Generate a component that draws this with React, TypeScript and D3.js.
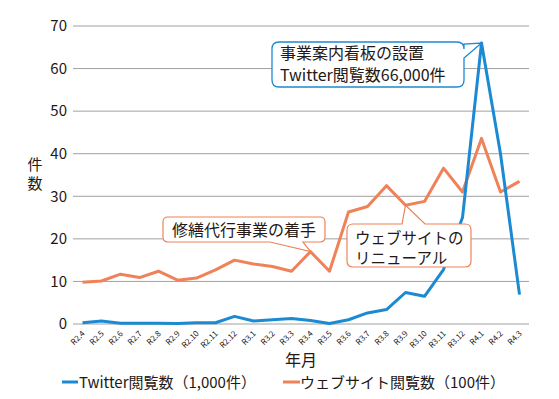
import * as d3 from 'd3'

const months = [
  'R2.4', 'R2.5', 'R2.6', 'R2.7', 'R2.8', 'R2.9', 'R2.10', 'R2.11', 'R2.12',
  'R3.1', 'R3.2', 'R3.3', 'R3.4', 'R3.5', 'R3.6', 'R3.7', 'R3.8', 'R3.9', 'R3.10', 'R3.11', 'R3.12',
  'R4.1', 'R4.2', 'R4.3',
]
// Twitter閲覧数（1,000件）
const twitter = [
  0.3, 0.7, 0.2, 0.2, 0.2, 0.1, 0.3, 0.3, 1.8,
  0.7, 1.0, 1.3, 0.8, 0.1, 1.0, 2.6, 3.4, 7.4, 6.5, 12.8, 25.0,
  66.0, 40.0, 6.9,
]
// ウェブサイト閲覧数（100件）
const website = [
  9.8, 10.1, 11.7, 10.9, 12.4, 10.3, 10.8, 12.7, 15.0,
  14.1, 13.5, 12.4, 17.0, 12.4, 26.3, 27.6, 32.5, 27.9, 28.8, 36.6, 31.0,
  43.6, 31.0, 33.5,
]
const yTicks = [0, 10, 20, 30, 40, 50, 60, 70]

const BLUE = '#1b8ad3'
const ORANGE = '#ef8259'
const INK = '#231815'
const FONT = '"Noto Sans CJK JP", "Noto Sans", sans-serif'

const W = 559
const H = 399
const plot = { left: 73, right: 529, top: 26, bottom: 324 }

// rounded box with a pointer on one side
function calloutPath(
  x0: number, y0: number, x1: number, y1: number, r: number,
  side: 'top' | 'right' | 'bottom', b1: number, b2: number, tx: number, ty: number
) {
  const p = d3.path()
  p.moveTo(x0 + r, y0)
  if (side === 'top') { p.lineTo(b1, y0); p.lineTo(tx, ty); p.lineTo(b2, y0) }
  p.lineTo(x1 - r, y0)
  p.quadraticCurveTo(x1, y0, x1, y0 + r)
  if (side === 'right') { p.lineTo(x1, b1); p.lineTo(tx, ty); p.lineTo(x1, b2) }
  p.lineTo(x1, y1 - r)
  p.quadraticCurveTo(x1, y1, x1 - r, y1)
  if (side === 'bottom') { p.lineTo(b2, y1); p.lineTo(tx, ty); p.lineTo(b1, y1) }
  p.lineTo(x0 + r, y1)
  p.quadraticCurveTo(x0, y1, x0, y1 - r)
  p.lineTo(x0, y0 + r)
  p.quadraticCurveTo(x0, y0, x0 + r, y0)
  p.closePath()
  return p.toString()
}

export default function App() {
  const x = d3.scalePoint<string>().domain(months).range([plot.left, plot.right]).padding(0.5)
  const y = d3.scaleLinear().domain([0, 70]).range([plot.bottom, plot.top])

  const line = d3.line<number>()
    .x((_, i) => x(months[i])!)
    .y(d => y(d))

  const peakIdx = twitter.indexOf(d3.max(twitter)!)
  const r34 = months.indexOf('R3.4')
  const r39 = months.indexOf('R3.9')

  return (
    <svg width={W} height={H} style={{ position: 'absolute', left: 0, top: 0, background: '#fff' }}
      fontFamily={FONT}>
      {/* grid */}
      {yTicks.map(t => (
        <g key={t}>
          <line x1={plot.left} x2={plot.right} y1={y(t)} y2={y(t)} stroke="#a0a0a0" strokeWidth={1} />
          <text x={67} y={y(t)} dy="0.35em" textAnchor="end" fontSize={15} fill={INK}>{t}</text>
        </g>
      ))}

      {/* y label, stacked vertically */}
      <text x={35} y={170} textAnchor="middle" fontSize={15} fill={INK}>
        <tspan x={35}>件</tspan>
        <tspan x={35} dy={19}>数</tspan>
      </text>

      {/* x tick labels */}
      {months.map(m => (
        <text key={m} transform={`translate(${x(m)! + 3},${334}) rotate(-45)`} textAnchor="end"
          fontSize={8} fill={INK}>{m}</text>
      ))}
      <text x={301} y={366} textAnchor="middle" fontSize={16} fill={INK}>年月</text>

      {/* series */}
      <path d={line(website)!} fill="none" stroke={ORANGE} strokeWidth={3} strokeLinejoin="round" />
      <path d={line(twitter)!} fill="none" stroke={BLUE} strokeWidth={3} strokeLinejoin="round" />

      {/* callouts */}
      <path d={calloutPath(272, 42, 464, 87, 7, 'right', 44, 58, x(months[peakIdx])!, y(twitter[peakIdx]))}
        fill="#fff" stroke={BLUE} strokeWidth={1.3} />
      <text x={280} y={59} fontSize={16} fill={INK}>
        <tspan x={280}>事業案内看板の設置</tspan>
        <tspan x={280} dy={22}>Twitter閲覧数66,000件</tspan>
      </text>

      <path d={calloutPath(163, 217, 325, 242, 5, 'bottom', 270, 303, x(months[r34])!, y(website[r34]))}
        fill="#fff" stroke={ORANGE} strokeWidth={1.2} />
      <text x={244} y={236} textAnchor="middle" fontSize={16} fill={INK}>修繕代行事業の着手</text>

      <path d={calloutPath(347, 224, 471, 267, 6, 'top', 402, 425, x(months[r39])!, y(website[r39]))}
        fill="#fff" stroke={ORANGE} strokeWidth={1.2} />
      <text x={355} y={244} fontSize={15.5} fill={INK}>
        <tspan x={355}>ウェブサイトの</tspan>
        <tspan x={355} dy={20}>リニューアル</tspan>
      </text>

      {/* legend */}
      <line x1={62} x2={78} y1={382} y2={382} stroke={BLUE} strokeWidth={3} />
      <text x={79} y={388} fontSize={15} fill={INK}>Twitter閲覧数（1,000件）</text>
      <line x1={283} x2={300} y1={382} y2={382} stroke={ORANGE} strokeWidth={3} />
      <text x={300} y={388} fontSize={15} fill={INK}>ウェブサイト閲覧数（100件）</text>
    </svg>
  )
}
